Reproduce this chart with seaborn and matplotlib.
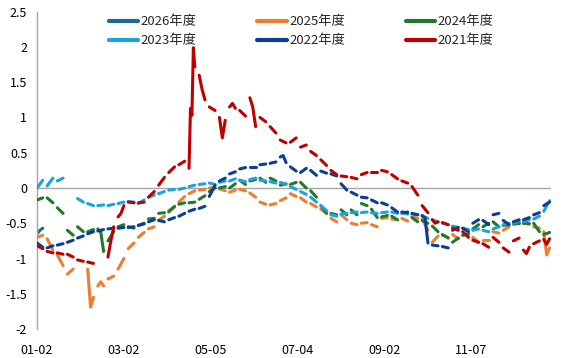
import numpy as np
import pandas as pd
import matplotlib
matplotlib.use("Agg")
import matplotlib.pyplot as plt
import seaborn as sns
from matplotlib.lines import Line2D

# ---------------- data ----------------
series_names = ["2026年度", "2025年度", "2024年度", "2023年度", "2022年度", "2021年度"]
series_colors = ["#1D6A8E", "#ED7D31", "#1F7A2E", "#1AA3DE", "#0B3F95", "#C00000"]

tick_labels = ["01-02", "03-02", "05-05", "07-04", "09-02", "11-07"]
tick_step = 60          # categories between labels
week_span = 7           # categories per calendar week (5 trading days + weekend gap)

# weekly values (each inner list spans one trading week; None = no trading / no data)
w2026 = [[-0.65, -0.60, -0.57]]

w2025 = [[-0.70, -0.67], [-0.72, -0.88], [-0.95, -1.10], [-1.22, -1.15], None,
         [-1.15, -1.69, -1.55], [-1.39, -1.33, -1.39], [-1.29, -1.25], [-1.15, -1.00], [-0.86, -0.78],
         [-0.70, -0.63], [-0.58, -0.55], [-0.46, -0.40], [-0.32, -0.27], [-0.20, -0.12],
         [-0.08, -0.04], [-0.03, -0.02], [0.00, 0.01], [-0.01, -0.04], [-0.06, -0.03],
         [-0.02, -0.04], [-0.07, -0.13], [-0.20, -0.23], [-0.24, -0.22], [-0.18, -0.14],
         [-0.08, -0.12], [-0.14, -0.20], [-0.22, -0.27], [-0.30, -0.36], [-0.43, -0.48],
         [-0.38, -0.45], [-0.50, -0.52], [-0.50, -0.49], [-0.52, -0.55], [-0.43, -0.42],
         [-0.44, -0.45], [-0.43, -0.47], [-0.41, -0.43], [-0.44, -0.60], [-0.77, -0.68],
         [-0.67, -0.70], [-0.66, -0.72], [-0.67, -0.66], [-0.70, -0.77], [-0.74, -0.74],
         [-0.62, -0.64], [-0.60, -0.55], [-0.52, -0.50], [-0.50, -0.50], [-0.55, -0.57],
         [-0.62, -0.95, -0.85]]

w2024 = [[-0.17, -0.14], [-0.14, -0.21], [-0.28, -0.36], [-0.60, -0.67], [-0.55, -0.62],
         [-0.62, -0.59], [-0.58, -0.62, -0.90], [-0.75, -0.62], [-0.55, -0.52], [-0.55, -0.57],
         [-0.53, -0.50], [-0.44, -0.43], [-0.36, -0.35], [-0.34, -0.26], [-0.23, -0.21],
         [-0.21, -0.20], [-0.16, -0.11], [-0.05, 0.00], [0.00, 0.02], [0.00, 0.06],
         [0.11, 0.05], [0.10, 0.12], [0.14, 0.08], [0.14, 0.10], [0.04, 0.06],
         [0.05, 0.08], [0.08, 0.00], [-0.04, -0.13], [-0.25, -0.36], [-0.36, -0.38],
         [-0.31, -0.38], [-0.31, -0.38], [-0.22, -0.25], [-0.30, -0.42], [-0.41, -0.39],
         [-0.40, -0.45], [-0.36, -0.34], [-0.42, -0.48], [-0.46, -0.50], [-0.54, -0.62],
         [-0.66, -0.71], [-0.77, -0.71], [-0.67, -0.65], [-0.58, -0.52], [-0.55, -0.50],
         [-0.48, -0.55], [-0.53, -0.52], [-0.50, -0.50], [-0.50, -0.51], [-0.50, -0.62],
         [-0.66, -0.63]]

w2023 = [[0.00, 0.11], [0.03, 0.14], [0.10, 0.14], None, [-0.15, -0.20],
         [-0.22, -0.25], [-0.25, -0.24], [-0.25, -0.23], [-0.22, -0.20], [-0.19, -0.20],
         [-0.22, -0.17], [-0.13, -0.10], [-0.08, -0.05], [-0.03, -0.02], [-0.02, 0.00],
         [0.02, 0.04], [0.05, 0.06], [0.07, 0.05], [0.08, 0.10], [0.10, 0.13],
         [0.11, 0.09], [0.12, 0.14], [0.11, 0.10], [0.09, 0.07], [0.08, 0.05],
         [0.02, -0.02], [-0.05, -0.09], [-0.13, -0.20], [-0.25, -0.32], [-0.38, -0.40],
         [-0.37, -0.36], [-0.35, -0.34], [-0.35, -0.34], [-0.35, -0.36], [-0.35, -0.34],
         [-0.34, -0.36], [-0.35, -0.37], [-0.37, -0.38], [-0.40, -0.43], [-0.45, -0.48],
         [-0.50, -0.52], [-0.54, -0.56], [-0.57, -0.59], [-0.60, -0.58], [-0.60, -0.62],
         [-0.58, -0.55], [-0.52, -0.50], [-0.50, -0.47], [-0.48, -0.45], [-0.44, -0.40],
         [-0.33, -0.18]]

w2022 = [[-0.78, -0.84], [-0.85, -0.82], [-0.81, -0.79], [-0.77, -0.74], [-0.71, -0.68],
         [-0.65, -0.62], [-0.61, -0.59], [-0.58, -0.57], [-0.57, -0.56], [-0.56, -0.55],
         [-0.53, -0.51], [-0.48, -0.45], [-0.46, -0.48], [-0.45, -0.42], [-0.40, -0.36],
         [-0.33, -0.30], [-0.29, -0.26], [-0.12, 0.04], [0.10, 0.14], [0.20, 0.23],
         [0.27, 0.29], [0.30, 0.30], [0.33, 0.34], [0.35, 0.37], [0.44, 0.46, 0.36],
         [0.30, 0.24], [0.22, 0.28], [0.25, 0.18], [0.24, 0.21], [0.20, 0.17],
         [0.06, -0.03], [-0.06, -0.10], [-0.13, -0.14], [-0.17, -0.21], [-0.21, -0.24],
         [-0.28, -0.34], [-0.34, -0.35], [-0.36, -0.38], [-0.39, -0.42, -0.78], [-0.81, -0.82],
         [-0.83, -0.85], [-0.60, -0.56], [-0.57, -0.62], [-0.50, -0.45], [-0.46, -0.52],
         [-0.38, -0.36], [-0.46, -0.52], [-0.48, -0.45], [-0.45, -0.42], [-0.38, -0.35],
         [-0.25, -0.20]]

w2021 = [[-0.82, -0.86], [-0.90, -0.92], [-0.92, -0.94], [-0.94, -0.98], [-1.02, -1.04],
         [-1.05, -1.07], None, [-0.98, -0.75, -0.55], [-0.41, -0.36, -0.25], [-0.20, -0.21],
         [-0.21, -0.20], [-0.13, -0.05], [0.04, 0.15], [0.22, 0.30], [0.33, 0.38],
         [0.28, 1.13, 1.03, 1.99, 1.72], [1.60, 1.40, 1.25], [1.15, 1.10], [1.00, 0.71, 0.96], [1.15, 1.20, 1.13],
         [1.10, 1.02], [1.28, 1.15, 0.87], [1.00, 0.94], [0.87, 0.78], [0.68, 0.64],
         [0.65, 0.71], [0.58, 0.61], [0.52, 0.46], [0.40, 0.32], [0.25, 0.19],
         [0.17, 0.16], [0.15, 0.13], [0.19, 0.22], [0.23, 0.23], [0.25, 0.23],
         [0.19, 0.13], [0.10, 0.07], [0.02, -0.10], [-0.25, -0.35], [-0.45, -0.50, -0.48],
         [-0.49, -0.52], [-0.57, -0.60], [-0.62, -0.70], [-0.74, -0.77], [-0.79, -0.84],
         [-0.70, -0.77], [-0.85, -0.91], [-0.75, -0.71], [-0.88, -0.93, -0.84], [-0.79, -0.75],
         [-0.73, -0.80, -0.72]]

weekly_data = [w2026, w2025, w2024, w2023, w2022, w2021]

# ---------------- table ----------------
rows = []
for name, weeks in zip(series_names, weekly_data):
    for k, vals in enumerate(weeks):
        if vals is None:
            continue
        xs = week_span * k + np.linspace(0, 4, len(vals))
        for xv, yv in zip(xs, vals):
            rows.append({"series": name, "seg": f"{name}-{k}", "x": xv, "y": yv})
df = pd.DataFrame(rows)

# ---------------- plot ----------------
sns.set_style("white")
plt.rcParams["font.family"] = ["Noto Sans CJK SC", "DejaVu Sans"]

W, H = 574, 358
fig = plt.figure(figsize=(W / 100, H / 100), dpi=100)
left, right, top, bottom = 37, 551, 11.75, 329
ax = fig.add_axes([left / W, 1 - bottom / H, (right - left) / W, (bottom - top) / H])

ax.axhline(0, color="#A6A6A6", lw=1.0, zorder=1)

palette = dict(zip(series_names, series_colors))
for i, name in enumerate(series_names):
    sub = df[df["series"] == name]
    sns.lineplot(data=sub, x="x", y="y", units="seg", estimator=None, color=palette[name],
                 lw=2.2, ax=ax, legend=False, zorder=2 + i, sort=False,
                 solid_capstyle="round", solid_joinstyle="round")

ax.set_xlim(0, 355)
ax.set_ylim(-2, 2.5)
yt = np.arange(-2, 2.51, 0.5)
ax.set_yticks(yt)
ax.set_yticklabels([f"{v:g}" for v in yt])
ax.set_xticks([i * tick_step for i in range(len(tick_labels))])
ax.set_xticklabels(tick_labels)
ax.set_xlabel("")
ax.set_ylabel("")
ax.tick_params(axis="x", length=0, pad=11, labelsize=9, colors="#000000")
ax.tick_params(axis="y", length=0, pad=7, labelsize=9, colors="#000000")
for s in ["top", "right", "bottom"]:
    ax.spines[s].set_visible(False)
ax.spines["left"].set_color("#A6A6A6")
ax.spines["left"].set_linewidth(1.0)
ax.grid(False)

# legend in row-major order (matplotlib fills columns first)
order = [0, 3, 1, 4, 2, 5]
handles = [Line2D([0], [0], color=series_colors[i], lw=3) for i in order]
labels = [series_names[i] for i in order]
leg = fig.legend(handles, labels, ncol=3, frameon=False, fontsize=9.5,
                 loc="upper left", bbox_to_anchor=(100 / W, 1 - 6 / H),
                 handlelength=2.2, handletextpad=0.2, columnspacing=4.6,
                 labelspacing=0.45, borderpad=0.2)

fig.savefig("out.png", dpi=100)
